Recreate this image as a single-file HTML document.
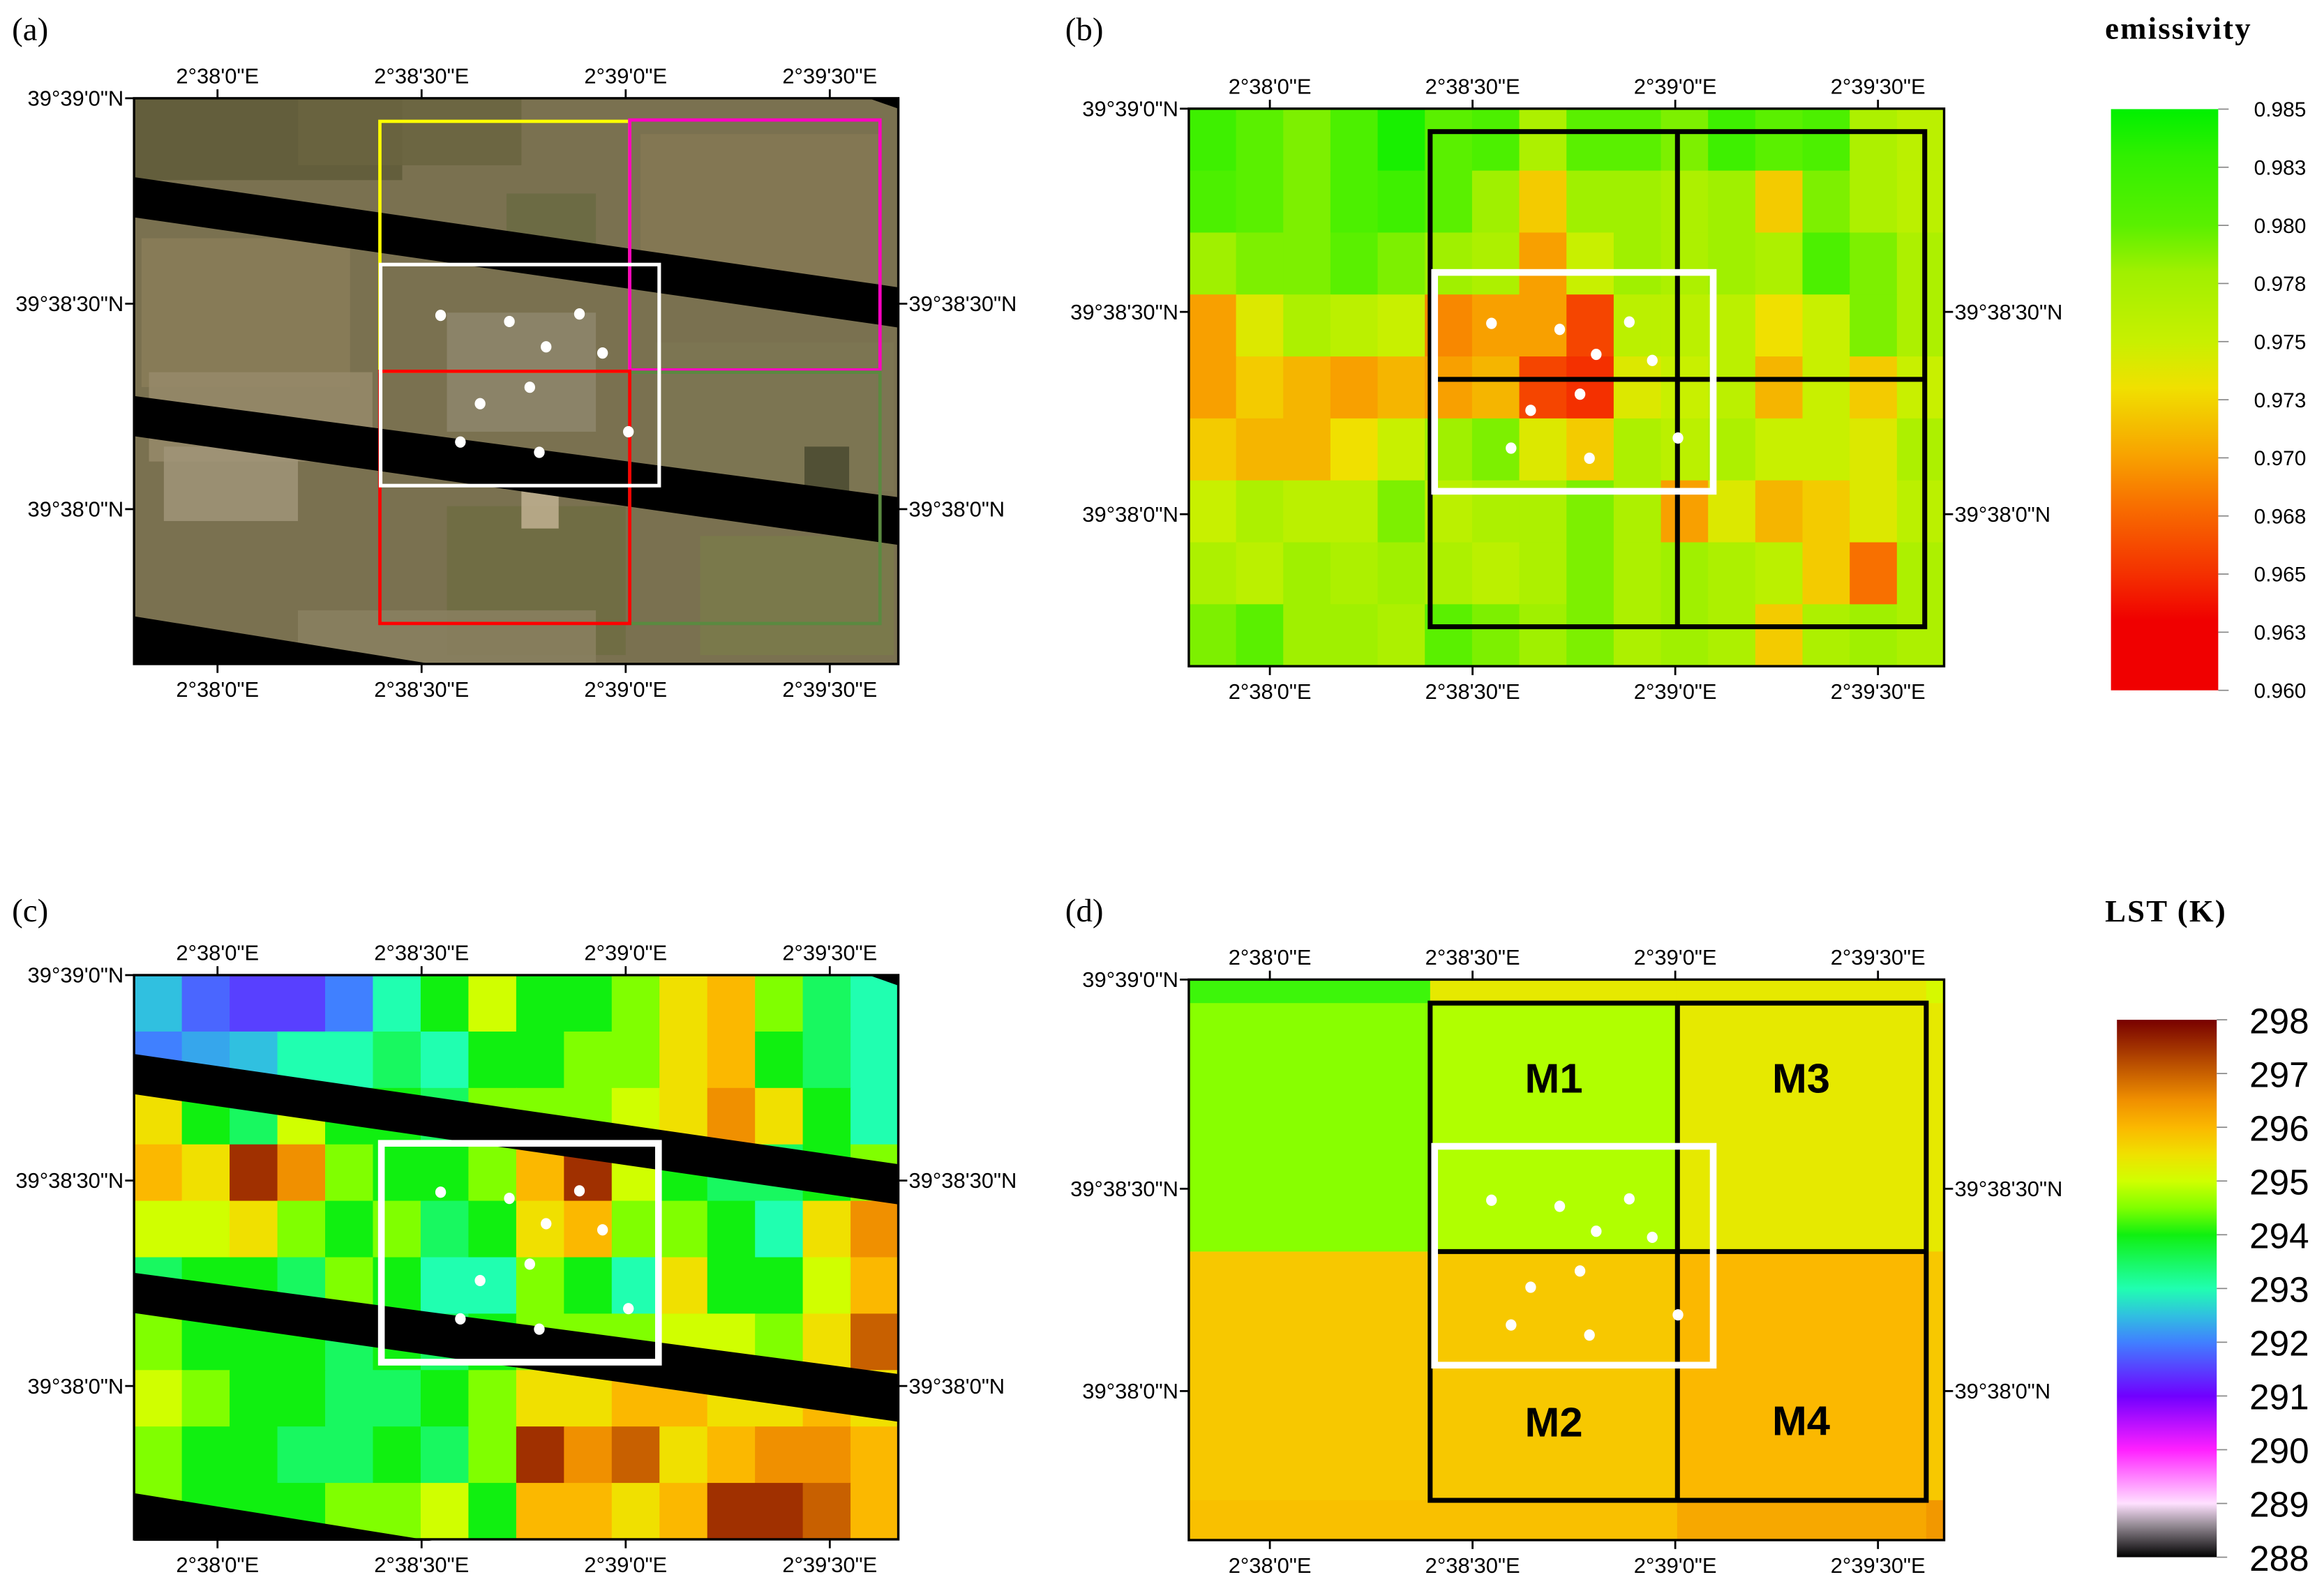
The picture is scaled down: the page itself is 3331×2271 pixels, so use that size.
<!DOCTYPE html>
<html><head><meta charset="utf-8">
<style>
html,body{margin:0;padding:0;background:#fff;}
svg{display:block;}
.ax{font-family:"Liberation Sans Narrow","Liberation Sans",sans-serif;font-size:14.5px;fill:#000;}
.pl{font-family:"Liberation Serif",serif;font-size:22px;fill:#000;}
.tt{font-family:"Liberation Serif",serif;font-size:21px;font-weight:bold;fill:#000;letter-spacing:1px;}
.cbe{font-family:"Liberation Sans",sans-serif;font-size:14px;fill:#000;}
.cbl{font-family:"Liberation Sans",sans-serif;font-size:24px;fill:#000;}
.ml{font-family:"Liberation Sans Narrow","Liberation Sans",sans-serif;font-size:28px;font-weight:bold;fill:#000;}
</style></head>
<body>
<svg id="fig" xmlns="http://www.w3.org/2000/svg" width="3331" height="2271" viewBox="0 0 1560 1064" preserveAspectRatio="none">
<rect x="0" y="0" width="1560" height="1064" fill="#fff"/>
<g id="root"></g>
</svg>
<script>
// ---------- data ----------
const emisRow0=[0.982,0.980,0.979,0.981,0.984,0.980,0.981,0.977,0.980,0.980,0.979,0.982,0.980,0.981,0.977,0.976];
const emisRow1=[0.981,0.980,0.979,0.981,0.982,0.980,0.978,0.972,0.978,0.978,0.977,0.978,0.972,0.979,0.977,0.976];
const emisRow2=[0.978,0.979,0.979,0.980,0.979,0.978,0.977,0.970,0.975,0.978,0.977,0.978,0.977,0.981,0.979,0.977];
const emisRow3=[0.970,0.974,0.977,0.976,0.975,0.969,0.970,0.970,0.966,0.976,0.976,0.976,0.973,0.975,0.979,0.977];
const emisRow4=[0.970,0.972,0.971,0.970,0.971,0.970,0.971,0.966,0.965,0.974,0.975,0.976,0.971,0.975,0.972,0.975];
const emisRow5=[0.972,0.971,0.971,0.973,0.975,0.978,0.979,0.974,0.972,0.977,0.976,0.977,0.975,0.975,0.974,0.977];
const emisRow6=[0.975,0.977,0.976,0.976,0.979,0.976,0.977,0.977,0.979,0.977,0.970,0.974,0.971,0.972,0.974,0.976];
const emisRow7=[0.977,0.976,0.978,0.977,0.978,0.977,0.976,0.977,0.979,0.977,0.978,0.977,0.976,0.972,0.968,0.977];
const emisRow8=[0.979,0.980,0.978,0.978,0.977,0.980,0.979,0.978,0.979,0.977,0.978,0.977,0.972,0.977,0.978,0.977];
const emisGrid=[emisRow0,emisRow1,emisRow2,emisRow3,emisRow4,emisRow5,emisRow6,emisRow7,emisRow8];
const lstRow0=[292.5,291.8,291.5,291.5,292,293,294,295,294,294,294.5,295.5,296,294.5,293.5,293];
const lstRow1=[292,292.3,292.5,293,293,293.5,293,294,294,294.5,294.5,295.5,296,294,293.5,293];
const lstRow2=[295.5,294,293.5,295,294,294,293.5,294.5,294.5,294.5,295,295.5,296.5,295.5,294,293];
const lstRow3=[296,295.5,297.5,296.5,294.5,294,294,294.5,296,297.5,295,294,293.5,293.5,294,294.5];
const lstRow4=[295,295,295.5,294.5,294,294.5,293.5,294,295.5,296,294.5,294.5,294,293,295.5,296.5];
const lstRow5=[293.5,294,294,293.5,294.5,294,293,293,294.5,294,293,295.5,294,294,295,296];
const lstRow6=[294.5,294,294,294,293.5,294,293.5,294,294.5,294.5,294.5,295,295,294.5,295.5,297];
const lstRow7=[295,294.5,294,294,293.5,293.5,294,294.5,295.5,295.5,296,296,295.5,295.5,296,295.5];
const lstRow8=[294.5,294,294,293.5,293.5,294,293.5,294.5,297.5,296.5,297,295.5,296,296.5,296.5,296];
const lstRow9=[294.5,294,294,294,294.5,294.5,295,294,296,296,295.5,296,297.5,297.5,297,296];
const lstGrid=[lstRow0,lstRow1,lstRow2,lstRow3,lstRow4,lstRow5,lstRow6,lstRow7,lstRow8,lstRow9];
const dRow0=[294.2,295.35,295.35,295.1];
const dRow1=[294.55,294.8,295.35,295.35];
const dRow2=[295.8,295.8,296.0,295.8];
const dRow3=[295.9,295.9,296.2,296.4];
const dGrid=[dRow0,dRow1,dRow2,dRow3];
const siteLon=[32.8,42.9,53.2,48.3,56.6,45.9,38.6,35.7,47.3,60.4];
const siteLat=[28.3,27.4,28.5,23.7,22.8,17.8,15.4,9.8,8.3,11.3];
const lonTicks=[0,30,60,90];
const lonLabels=["2°38'0\"E","2°38'30\"E","2°39'0\"E","2°39'30\"E"];
const latTicks=[60,30,0];
const latLabels=["39°39'0\"N","39°38'30\"N","39°38'0\"N"];
const emisTickVals=[0.985,0.9825,0.980,0.9775,0.975,0.9725,0.970,0.9675,0.965,0.9625,0.960];
const emisTickLabels=["0.985","0.983","0.980","0.978","0.975","0.973","0.970","0.968","0.965","0.963","0.960"];
const lstTickVals=[298,297,296,295,294,293,292,291,290,289,288];
const lstTickLabels=["298","297","296","295","294","293","292","291","290","289","288"];

// ---------- colour maps ----------
const emisStops=[[0.960,[240,0,0]],[0.963,[240,0,0]],[0.965,[244,48,0]],[0.968,[248,112,0]],[0.970,[248,160,0]],[0.973,[240,224,0]],[0.975,[200,240,0]],[0.978,[160,240,0]],[0.980,[90,240,0]],[0.983,[48,240,0]],[0.985,[0,240,0]]];
const lstStops=[[288,[0,0,0]],[288.6,[150,140,150]],[289,[255,224,255]],[290,[255,32,255]],[291,[112,0,255]],[292,[64,128,255]],[292.5,[48,192,224]],[293,[32,255,176]],[294,[16,240,16]],[294.5,[128,255,0]],[295,[208,255,0]],[295.5,[240,224,0]],[296,[251,184,0]],[296.5,[240,144,0]],[297,[200,96,0]],[297.5,[160,48,0]],[298,[120,0,0]]];
function cmap(stops,v){
  if(v<=stops[0][0])return 'rgb('+stops[0][1].join(',')+')';
  for(let i=1;i<stops.length;i++){
    if(v<=stops[i][0]){const a=stops[i-1],b=stops[i];const t=(v-a[0])/(b[0]-a[0]);
      const c=a[1].map((x,k)=>Math.round(x+(b[1][k]-x)*t));return 'rgb('+c.join(',')+')';}
  }
  return 'rgb('+stops[stops.length-1][1].join(',')+')';
}

const NS='http://www.w3.org/2000/svg';
const root=document.getElementById('root');
function mk(tag,attrs,parent){const e=document.createElementNS(NS,tag);for(const k in attrs)e.setAttribute(k,attrs[k]);(parent||root).appendChild(e);return e;}
function txt(s,attrs,parent){const e=mk('text',attrs,parent);e.textContent=s;return e;}

const P={
 a:{x0:90,x1:603,y0:66,y1:446,lx0:146,lx90:557,ly0:342,ly30:204},
 c:{x0:90,x1:603,y0:655,y1:1034,lx0:146,lx90:557,ly0:931,ly30:793},
 b:{x0:798,x1:1305,y0:73,y1:447.5,lx0:852.4,lx90:1260.6,ly0:345.4,ly30:209.5},
 d:{x0:798,x1:1305,y0:658,y1:1034.5,lx0:852.4,lx90:1260.6,ly0:934.4,ly30:798.5}
};
function sx(p,lon){return p.lx0+(p.lx90-p.lx0)*lon/90;}
function sy(p,lat){return p.ly0+(p.ly30-p.ly0)*lat/30;}

function drawAxes(key,name){
  const p=P[key];
  const g=mk('g',{});
  
  
  mk('rect',{x:p.x0,y:p.y0,width:p.x1-p.x0,height:p.y1-p.y0,fill:'none',stroke:'#000','stroke-width':1.6},g);
  lonTicks.forEach((v,i)=>{
    const x=sx(p,v);
    mk('line',{x1:x,x2:x,y1:p.y0-6,y2:p.y0,stroke:'#000','stroke-width':1.3},g);
    mk('line',{x1:x,x2:x,y1:p.y1,y2:p.y1+6,stroke:'#000','stroke-width':1.3},g);
    const t1=txt(lonLabels[i],{x:x,y:p.y0-10,'text-anchor':'middle',class:'ax'},g);
    
    
    const t2=txt(lonLabels[i],{x:x,y:p.y1+22,'text-anchor':'middle',class:'ax'},g);
    
    
  });
  latTicks.forEach((v,i)=>{
    let y=sy(p,v); if(v===60) y=p.y0;
    mk('line',{x1:p.x0-6,x2:p.x0,y1:y,y2:y,stroke:'#000','stroke-width':1.3},g);
    const t=txt(latLabels[i],{x:p.x0-7,y:y+5,'text-anchor':'end',class:'ax'},g);
    
    
    if(v!==60){
      mk('line',{x1:p.x1,x2:p.x1+6,y1:y,y2:y,stroke:'#000','stroke-width':1.3},g);
      const r=txt(latLabels[i],{x:p.x1+7,y:y+5,'text-anchor':'start',class:'ax'},g);
      
      
    }
  });
}
function drawSites(key){
  const p=P[key];
  siteLon.forEach((lon,i)=>{
    const c=mk('ellipse',{cx:sx(p,lon),cy:sy(p,siteLat[i]),rx:3.6,ry:3.8,fill:'#fff'});
    
    
  });
}
function stripes(dy,name){
  const polys=[
    [[90,119],[603,193],[603,220],[90,146]],
    [[90,266],[603,334],[603,366],[90,293]],
    [[90,414],[290,446],[90,446]],
    [[583,66],[603,66],[603,73]]
  ];
  polys.forEach(pl=>{
    const e=mk('polygon',{points:pl.map(q=>q[0]+','+(q[1]+dy)).join(' '),fill:'#000'});
    
    
  });
}

// panel (a)
(function(){
  const p=P.a;
  const g=mk('g',{});
  
  
  mk('rect',{x:p.x0,y:p.y0,width:p.x1-p.x0,height:p.y1-p.y0,fill:'#7a7150'},g);
  const patches=[[90,66,180,55,'#5f5a38'],[200,66,150,45,'#6a6440'],[95,160,140,100,'#8a7c58'],[100,250,150,60,'#978a6a'],[110,300,90,50,'#a09478'],[300,210,100,80,'#8e866c'],[340,130,60,40,'#6a6a42'],[430,90,160,100,'#857853'],[440,230,160,100,'#7d7652'],[300,340,120,100,'#6e6c42'],[470,360,130,80,'#7a7a4a'],[540,300,30,30,'#4a4a30'],[350,330,25,25,'#c0b090'],[200,410,200,36,'#8a8060']];
  patches.forEach(q=>mk('rect',{x:q[0],y:q[1],width:q[2],height:q[3],fill:q[4],opacity:0.85},g));
  stripes(0,'no-data-stripe');
  const boxes=[[255,81.5,422.7,249.4,'#ffff00','yellow-box'],[422.7,80.6,590.7,248.5,'#ff00c0','magenta-box'],[422.7,250,590.7,418.8,'#5a8a40','green-box'],[255,249.4,422.7,418.8,'#ff0000','red-box']];
  boxes.forEach(b=>{
    const r=mk('rect',{x:b[0],y:b[1],width:b[2]-b[0],height:b[3]-b[1],fill:'none',stroke:b[4],'stroke-width':2.2});
    
    
  });
  const w=mk('rect',{x:255.5,y:177.7,width:187,height:148.5,fill:'none',stroke:'#fff','stroke-width':2.4});
  
  
  drawSites('a');
  drawAxes('a','panel-a');
})();

// panel (b)
(function(){
  const p=P.b;
  const g=mk('g',{});
  
  
  const nr=emisGrid.length,nc=emisGrid[0].length;
  const cw=(p.x1-p.x0)/nc,ch=(p.y1-p.y0)/nr;
  emisGrid.forEach((row,r)=>row.forEach((v,c)=>{
    const e=mk('rect',{x:p.x0+c*cw,y:p.y0+r*ch,width:cw+0.5,height:ch+0.5,fill:cmap(emisStops,v)},g);
    
    
  }));
  const m=mk('g',{fill:'none',stroke:'#000','stroke-width':3.3});
  
  
  mk('rect',{x:960,y:88.4,width:332,height:332.6},m);
  mk('line',{x1:1126,x2:1126,y1:88.4,y2:421},m);
  mk('line',{x1:960,x2:1292,y1:254.8,y2:254.8},m);
  const w=mk('rect',{x:963,y:183,width:187,height:147,fill:'none',stroke:'#fff','stroke-width':4.5});
  
  
  drawSites('b');
  drawAxes('b','panel-b');
})();

// panel (c)
(function(){
  const p=P.c;
  const g=mk('g',{});
  
  
  const nr=lstGrid.length,nc=lstGrid[0].length;
  const cw=(p.x1-p.x0)/nc,ch=(p.y1-p.y0)/nr;
  lstGrid.forEach((row,r)=>row.forEach((v,c)=>{
    const e=mk('rect',{x:p.x0+c*cw,y:p.y0+r*ch,width:cw+0.5,height:ch+0.5,fill:cmap(lstStops,v)},g);
    
    
  }));
  stripes(589,'no-data-stripe');
  const w=mk('rect',{x:256,y:768,width:186,height:147,fill:'none',stroke:'#fff','stroke-width':4.5});
  
  
  drawSites('c');
  drawAxes('c','panel-c');
})();

// panel (d)
(function(){
  const xe=[798,960,1125.8,1293,1305];
  const ye=[658,673.8,840.7,1007.7,1034.5];
  const g=mk('g',{});
  
  
  dGrid.forEach((row,r)=>row.forEach((v,c)=>{
    const e=mk('rect',{x:xe[c],y:ye[r],width:xe[c+1]-xe[c]+0.5,height:ye[r+1]-ye[r]+0.5,fill:cmap(lstStops,v)},g);
    
    
  }));
  const m=mk('g',{fill:'none',stroke:'#000','stroke-width':3.3});
  
  
  mk('rect',{x:960,y:673.8,width:333,height:334},m);
  mk('line',{x1:1126,x2:1126,y1:673.8,y2:1007.7},m);
  mk('line',{x1:960,x2:1293,y1:840.7,y2:840.7},m);
  const w=mk('rect',{x:963,y:770,width:187,height:147,fill:'none',stroke:'#fff','stroke-width':4.5});
  
  
  [['M1',1043,734],['M3',1209,734],['M2',1043,965],['M4',1209,964]].forEach(q=>{
    const t=txt(q[0],{x:q[1],y:q[2],'text-anchor':'middle',class:'ml'});
    
    
  });
  drawSites('d');
  drawAxes('d','panel-d');
})();

// colour bars
(function(){
  const defs=mk('defs',{});
  const ge=mk('linearGradient',{id:'ge',x1:0,y1:1,x2:0,y2:0},defs);
  emisStops.forEach(s=>mk('stop',{offset:((s[0]-0.960)/0.025),'stop-color':'rgb('+s[1].join(',')+')'},ge));
  const gl=mk('linearGradient',{id:'gl',x1:0,y1:1,x2:0,y2:0},defs);
  lstStops.forEach(s=>mk('stop',{offset:((s[0]-288)/10),'stop-color':'rgb('+s[1].join(',')+')'},gl));
  const y0=73.3,y1=463.7;
  const b1=mk('rect',{x:1417,y:y0,width:72,height:y1-y0,fill:'url(#ge)'});
  
  
  emisTickVals.forEach((v,i)=>{
    const y=y1-(v-0.960)/0.025*(y1-y0);
    mk('line',{x1:1489,x2:1496,y1:y,y2:y,stroke:'#888','stroke-width':0.8});
    const t=txt(emisTickLabels[i],{x:1548,y:y+5,'text-anchor':'end',class:'cbe'});
    
    
  });
  const t1=txt('emissivity',{x:1413,y:26,class:'tt'});
  
  
  const z0=685,z1=1046;
  const b2=mk('rect',{x:1421,y:z0,width:67,height:z1-z0,fill:'url(#gl)'});
  
  
  lstTickVals.forEach((v,i)=>{
    const y=z1-(v-288)/10*(z1-z0);
    mk('line',{x1:1488,x2:1495,y1:y,y2:y,stroke:'#888','stroke-width':0.8});
    const t=txt(lstTickLabels[i],{x:1550,y:y+9,'text-anchor':'end',class:'cbl'});
    
    
  });
  const t2=txt('LST (K)',{x:1413,y:619,class:'tt'});
  
  
})();

[['(a)',8,27],['(b)',715,27],['(c)',8,619],['(d)',715,619]].forEach(q=>{
  const t=txt(q[0],{x:q[1],y:q[2],class:'pl'});
  
  
});
</script>
</body></html>
